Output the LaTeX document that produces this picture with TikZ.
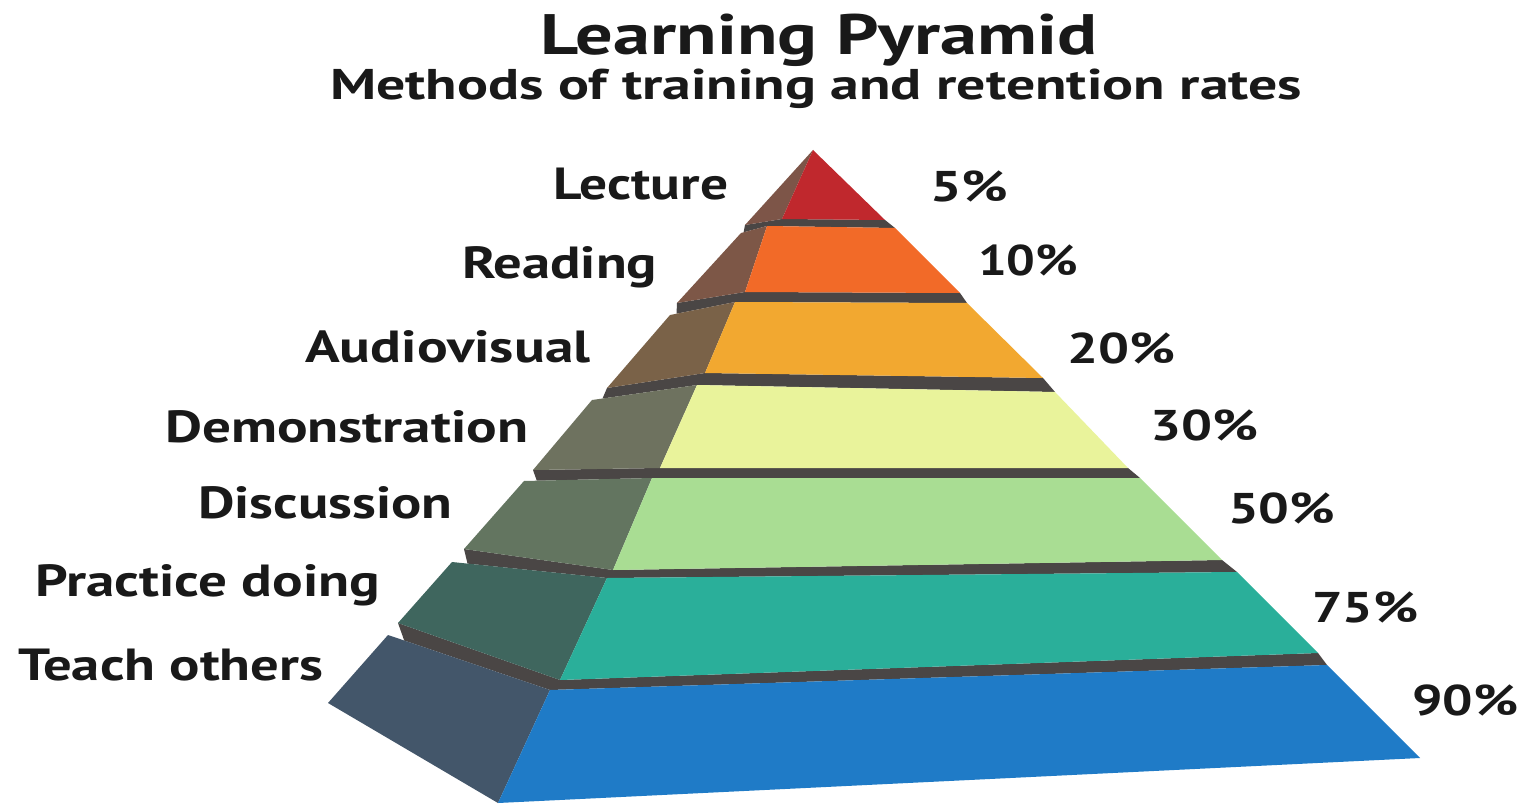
\documentclass[tikz,border=0pt]{standalone}
\usepackage{fontspec}
\setmainfont{PT Sans}
\usepackage{graphicx}
\usetikzlibrary{calc}
\definecolor{bandc}{HTML}{4A4645}
\definecolor{redF}{HTML}{C0282D}\definecolor{redS}{HTML}{7D5548}
\definecolor{oraF}{HTML}{F26A28}\definecolor{oraS}{HTML}{7D5747}
\definecolor{ambF}{HTML}{F2A830}\definecolor{ambS}{HTML}{7A6248}
\definecolor{yelF}{HTML}{E9F39B}\definecolor{yelS}{HTML}{6E725F}
\definecolor{grnF}{HTML}{A9DD93}\definecolor{grnS}{HTML}{637560}
\definecolor{teaF}{HTML}{2AAF9A}\definecolor{teaS}{HTML}{3F665E}
\definecolor{bluF}{HTML}{1F7BC7}\definecolor{bluS}{HTML}{43566A}
% fit a text to a given width, keeping its natural height
\newcommand{\fitto}[2]{\resizebox{#1pt}{\height}{#2}}
% dark strip between an upper tier (#1) and the tier below it (#2)
\newcommand{\tierband}[2]{%
  \fill[band] ($(#2SLt)!0.1!(#2FLt)$) -- (#2FLt) -- (#2FRt) -- (#1FRb) -- (#1FLb) -- (#1SLb) -- cycle;}
\begin{document}
\begin{tikzpicture}[x=1pt,y=-1pt,
  lbl/.style={anchor=base west,inner sep=0pt,font=\fontsize{45}{45}\selectfont\bfseries,text=black!90},
  pct/.style={anchor=base west,inner sep=0pt,font=\fontsize{43}{43}\selectfont\bfseries,text=black!90},
  band/.style={fill=bandc}]
\useasboundingbox[fill=white] (0,0) rectangle (1533,805);

% tier corners: S = back-left of side face, F = front, t/b = top/bottom, L/R = left/right
\coordinate (apex) at (813,150);
\coordinate (aFLb) at (782,219); \coordinate (aFRb) at (885,220); \coordinate (aSLb) at (745,225);

\coordinate (bSLt) at (741,233); \coordinate (bFLt) at (767,226); \coordinate (bFRt) at (895,228);
\coordinate (bFRb) at (960,293); \coordinate (bFLb) at (745,292); \coordinate (bSLb) at (677,303);

\coordinate (cSLt) at (670,315); \coordinate (cFLt) at (735,302); \coordinate (cFRt) at (967,303);
\coordinate (cFRb) at (1043,378); \coordinate (cFLb) at (705,373); \coordinate (cSLb) at (607,388);

\coordinate (dSLt) at (592,400); \coordinate (dFLt) at (697,385); \coordinate (dFRt) at (1055,392);
\coordinate (dFRb) at (1128,468); \coordinate (dFLb) at (660,468); \coordinate (dSLb) at (533,470);

\coordinate (eSLt) at (524,481); \coordinate (eFLt) at (652,478); \coordinate (eFRt) at (1140,478);
\coordinate (eFRb) at (1222,560); \coordinate (eFLb) at (613,570); \coordinate (eSLb) at (464,549);

\coordinate (fSLt) at (452,562); \coordinate (fFLt) at (607,578); \coordinate (fFRt) at (1237,572);
\coordinate (fFRb) at (1318,653); \coordinate (fFLb) at (560,680); \coordinate (fSLb) at (398,623);

\coordinate (gSLt) at (388,635); \coordinate (gFLt) at (550,690); \coordinate (gFRt) at (1327,665);
\coordinate (gFRb) at (1420,758); \coordinate (gFLb) at (498,803); \coordinate (gSLb) at (328,703);

% dark top faces showing between the tiers
\tierband{a}{b}
\tierband{b}{c}
\tierband{c}{d}
\tierband{d}{e}
\tierband{e}{f}
\tierband{f}{g}

% tier 1: apex
\fill[redS] (apex) -- (aFLb) -- (aSLb) -- cycle;
\fill[redF] (apex) -- (aFRb) -- (aFLb) -- cycle;
% tiers 2-7: side face, then front face
\fill[oraS] (bSLt) -- (bFLt) -- (bFLb) -- (bSLb) -- cycle;
\fill[oraF] (bFLt) -- (bFRt) -- (bFRb) -- (bFLb) -- cycle;
\fill[ambS] (cSLt) -- (cFLt) -- (cFLb) -- (cSLb) -- cycle;
\fill[ambF] (cFLt) -- (cFRt) -- (cFRb) -- (cFLb) -- cycle;
\fill[yelS] (dSLt) -- (dFLt) -- (dFLb) -- (dSLb) -- cycle;
\fill[yelF] (dFLt) -- (dFRt) -- (dFRb) -- (dFLb) -- cycle;
\fill[grnS] (eSLt) -- (eFLt) -- (eFLb) -- (eSLb) -- cycle;
\fill[grnF] (eFLt) -- (eFRt) -- (eFRb) -- (eFLb) -- cycle;
\fill[teaS] (fSLt) -- (fFLt) -- (fFLb) -- (fSLb) -- cycle;
\fill[teaF] (fFLt) -- (fFRt) -- (fFRb) -- (fFLb) -- cycle;
\fill[bluS] (gSLt) -- (gFLt) -- (gFLb) -- (gSLb) -- cycle;
\fill[bluF] (gFLt) -- (gFRt) -- (gFRb) -- (gFLb) -- cycle;

% headings
\node[anchor=base west,inner sep=0pt,font=\fontsize{57}{57}\selectfont\bfseries,text=black!90]
  (title) at (540,55) {\fitto{557}{Learning Pyramid}};
\node[anchor=base west,inner sep=0pt,font=\fontsize{43}{43}\selectfont\bfseries,text=black!90]
  (subtitle) at (330,100) {\fitto{972}{Methods of training and retention rates}};

% methods
\node[lbl] (lecture) at (553,200) {\fitto{175}{Lecture}};
\node[lbl] (reading) at (462,278) {\fitto{195}{Reading}};
\node[lbl] (audio)   at (305,362) {\fitto{285}{Audiovisual}};
\node[lbl] (demo)    at (165,442) {\fitto{363}{Demonstration}};
\node[lbl] (discuss) at (198,518) {\fitto{254}{Discussion}};
\node[lbl] (practice) at (35,596) {\fitto{345}{Practice doing}};
\node[lbl] (teach)   at (18,680) {\fitto{305}{Teach others}};

% retention rates
\node[pct] (p5)  at (930,202)  {\fitto{78}{5\%}};
\node[pct] (p10) at (978,275)  {\fitto{100}{10\%}};
\node[pct] (p20) at (1067,363) {\fitto{108}{20\%}};
\node[pct] (p30) at (1150,440) {\fitto{108}{30\%}};
\node[pct] (p50) at (1228,523) {\fitto{107}{50\%}};
\node[pct] (p75) at (1312,622) {\fitto{106}{75\%}};
\node[pct] (p90) at (1412,715) {\fitto{106}{90\%}};
\end{tikzpicture}
\end{document}
